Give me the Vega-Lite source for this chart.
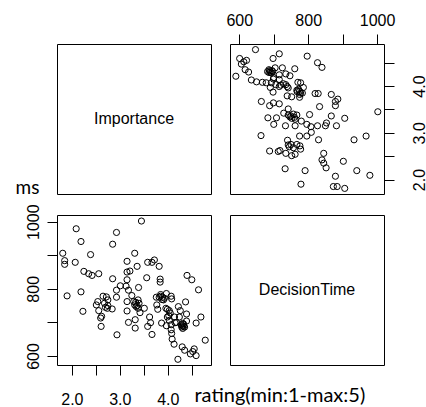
{
  "$schema": "https://vega.github.io/schema/vega-lite/v6.json",
  "padding": {"left": 14, "top": 11, "right": 0, "bottom": 0},
  "background": "white",
  "config": {
    "view": {"stroke": "black", "strokeWidth": 1},
    "font": "Liberation Sans",
    "axis": {
      "domain": false,
      "grid": false,
      "ticks": true,
      "tickColor": "black",
      "tickWidth": 1,
      "tickSize": 10,
      "labelFont": "Liberation Sans",
      "labelFontSize": 16,
      "labelColor": "black",
      "labelFlush": false,
      "labelOverlap": false,
      "titleFontWeight": "normal",
      "titleColor": "black"
    }
  },
  "data": {
    "values": [
      {"rating": 1.81, "ms": 906}, {"rating": 1.85, "ms": 884}, {"rating": 1.85, "ms": 873},
      {"rating": 1.90, "ms": 779}, {"rating": 2.07, "ms": 879}, {"rating": 2.09, "ms": 979},
      {"rating": 2.19, "ms": 941}, {"rating": 2.19, "ms": 791}, {"rating": 2.23, "ms": 733},
      {"rating": 2.25, "ms": 852}, {"rating": 2.35, "ms": 845}, {"rating": 2.39, "ms": 902},
      {"rating": 2.42, "ms": 840}, {"rating": 2.56, "ms": 845}, {"rating": 2.51, "ms": 752},
      {"rating": 2.54, "ms": 762}, {"rating": 2.56, "ms": 735}, {"rating": 2.60, "ms": 713},
      {"rating": 2.61, "ms": 688}, {"rating": 2.65, "ms": 778}, {"rating": 2.68, "ms": 757},
      {"rating": 2.72, "ms": 776}, {"rating": 2.75, "ms": 767}, {"rating": 2.74, "ms": 742},
      {"rating": 2.62, "ms": 718}, {"rating": 2.85, "ms": 830}, {"rating": 2.84, "ms": 740},
      {"rating": 2.85, "ms": 933}, {"rating": 2.93, "ms": 968}, {"rating": 2.93, "ms": 796},
      {"rating": 2.93, "ms": 775}, {"rating": 2.94, "ms": 663}, {"rating": 3.01, "ms": 809},
      {"rating": 3.13, "ms": 808}, {"rating": 3.15, "ms": 882}, {"rating": 3.15, "ms": 850},
      {"rating": 3.15, "ms": 827}, {"rating": 3.15, "ms": 762}, {"rating": 3.15, "ms": 734},
      {"rating": 3.21, "ms": 853}, {"rating": 3.18, "ms": 796}, {"rating": 3.18, "ms": 700},
      {"rating": 3.25, "ms": 780}, {"rating": 3.31, "ms": 906}, {"rating": 3.29, "ms": 762},
      {"rating": 3.31, "ms": 752}, {"rating": 3.34, "ms": 747}, {"rating": 3.32, "ms": 708},
      {"rating": 3.32, "ms": 683}, {"rating": 3.36, "ms": 867}, {"rating": 3.39, "ms": 804},
      {"rating": 3.38, "ms": 767}, {"rating": 3.38, "ms": 742}, {"rating": 3.42, "ms": 729},
      {"rating": 3.45, "ms": 1002}, {"rating": 3.51, "ms": 742}, {"rating": 3.56, "ms": 833},
      {"rating": 3.58, "ms": 879}, {"rating": 3.58, "ms": 688}, {"rating": 3.62, "ms": 716},
      {"rating": 3.64, "ms": 699}, {"rating": 3.67, "ms": 879}, {"rating": 3.67, "ms": 664},
      {"rating": 3.72, "ms": 886}, {"rating": 3.76, "ms": 775}, {"rating": 3.77, "ms": 752},
      {"rating": 3.79, "ms": 739}, {"rating": 3.82, "ms": 867}, {"rating": 3.84, "ms": 829},
      {"rating": 3.84, "ms": 820}, {"rating": 3.82, "ms": 775}, {"rating": 3.85, "ms": 778},
      {"rating": 3.89, "ms": 775}, {"rating": 3.87, "ms": 698}, {"rating": 3.91, "ms": 767},
      {"rating": 3.97, "ms": 786}, {"rating": 3.96, "ms": 742}, {"rating": 3.99, "ms": 739},
      {"rating": 3.99, "ms": 716}, {"rating": 3.97, "ms": 690}, {"rating": 4.03, "ms": 735},
      {"rating": 4.03, "ms": 706}, {"rating": 4.07, "ms": 778}, {"rating": 4.07, "ms": 693},
      {"rating": 4.07, "ms": 678}, {"rating": 4.08, "ms": 667}, {"rating": 4.09, "ms": 650},
      {"rating": 4.13, "ms": 635}, {"rating": 4.08, "ms": 770}, {"rating": 4.14, "ms": 716},
      {"rating": 4.15, "ms": 699}, {"rating": 4.21, "ms": 590}, {"rating": 4.22, "ms": 747},
      {"rating": 4.24, "ms": 716}, {"rating": 4.26, "ms": 735}, {"rating": 4.28, "ms": 693},
      {"rating": 4.29, "ms": 686}, {"rating": 4.31, "ms": 697}, {"rating": 4.33, "ms": 688},
      {"rating": 4.40, "ms": 840}, {"rating": 4.30, "ms": 627}, {"rating": 4.35, "ms": 617},
      {"rating": 4.37, "ms": 761}, {"rating": 4.39, "ms": 725}, {"rating": 4.39, "ms": 704},
      {"rating": 4.47, "ms": 606}, {"rating": 4.50, "ms": 827}, {"rating": 4.52, "ms": 613},
      {"rating": 4.55, "ms": 621}, {"rating": 4.59, "ms": 698}, {"rating": 4.59, "ms": 601},
      {"rating": 4.64, "ms": 797}, {"rating": 4.69, "ms": 716}, {"rating": 4.78, "ms": 647},
      {"rating": 4.31, "ms": 682}, {"rating": 4.35, "ms": 686}, {"rating": 4.33, "ms": 695},
      {"rating": 4.30, "ms": 690}, {"rating": 3.40, "ms": 757}, {"rating": 3.36, "ms": 750},
      {"rating": 3.33, "ms": 760}, {"rating": 3.93, "ms": 772}, {"rating": 3.88, "ms": 768},
      {"rating": 4.05, "ms": 728}, {"rating": 4.02, "ms": 720}, {"rating": 2.70, "ms": 745},
      {"rating": 2.75, "ms": 750}, {"rating": 3.85, "ms": 783}, {"rating": 4.18, "ms": 700}
    ]
  },
  "concat": [
    {
      "width": 154,
      "height": 150,
      "view": {"stroke": "black", "strokeWidth": 1},
      "data": {"values": [{"label": "Importance"}]},
      "mark": {"type": "text", "font": "Liberation Sans", "fontSize": 16, "color": "black"},
      "encoding": {"text": {"field": "label"}}
    },
    {
      "width": 154,
      "height": 150,
      "mark": {"type": "point", "shape": "circle", "filled": false, "color": "black", "strokeWidth": 1, "size": 38, "opacity": 1},
      "encoding": {
        "x": {
          "field": "ms", "type": "quantitative",
          "scale": {"domain": [573, 1020], "nice": false, "zero": false},
          "axis": {"orient": "top", "values": [600, 700, 800, 900, 1000], "format": "d", "labelExpr": "datum.value % 200 == 0 ? datum.label : ''", "labelPadding": 6, "title": null}
        },
        "y": {
          "field": "rating", "type": "quantitative",
          "scale": {"domain": [1.69, 4.9], "nice": false, "zero": false},
          "axis": {"orient": "right", "values": [2, 2.5, 3, 3.5, 4, 4.5], "format": ".1f", "labelExpr": "datum.value % 1 == 0 ? datum.label : ''", "labelAngle": -90, "labelAlign": "center", "labelBaseline": "top", "labelPadding": 17, "title": null}
        }
      }
    },
    {
      "width": 154,
      "height": 150,
      "mark": {"type": "point", "shape": "circle", "filled": false, "color": "black", "strokeWidth": 1, "size": 38, "opacity": 1},
      "encoding": {
        "x": {
          "field": "rating", "type": "quantitative",
          "scale": {"domain": [1.69, 4.9], "nice": false, "zero": false},
          "axis": {"orient": "bottom", "values": [2, 2.5, 3, 3.5, 4, 4.5], "format": ".1f", "labelExpr": "datum.value % 1 == 0 ? datum.label : ''", "labelPadding": 16,
            "title": "rating(min:1-max:5)", "titleFont": "Lato", "titleFontSize": 20, "titleX": 137, "titleY": 36, "titleAlign": "left", "titleBaseline": "alphabetic", "titleAngle": 0}
        },
        "y": {
          "field": "ms", "type": "quantitative",
          "scale": {"domain": [573, 1020], "nice": false, "zero": false},
          "axis": {"orient": "left", "values": [600, 700, 800, 900, 1000], "format": "d", "labelExpr": "datum.value % 200 == 0 ? datum.label : ''", "labelAngle": -90, "labelAlign": "center", "labelBaseline": "bottom", "labelPadding": 6,
            "title": "ms", "titleFont": "Lato", "titleFontSize": 19, "titleX": -42, "titleY": -22, "titleAlign": "left", "titleBaseline": "alphabetic", "titleAngle": 0}
        }
      }
    },
    {
      "width": 154,
      "height": 150,
      "view": {"stroke": "black", "strokeWidth": 1},
      "data": {"values": [{"label": "DecisionTime"}]},
      "mark": {"type": "text", "font": "Liberation Sans", "fontSize": 16, "color": "black"},
      "encoding": {"text": {"field": "label"}}
    }
  ],
  "columns": 2,
  "spacing": {"row": 21, "column": 19},
  "bounds": "flush",
  "resolve": {"scale": {"x": "independent", "y": "independent"}}
}
